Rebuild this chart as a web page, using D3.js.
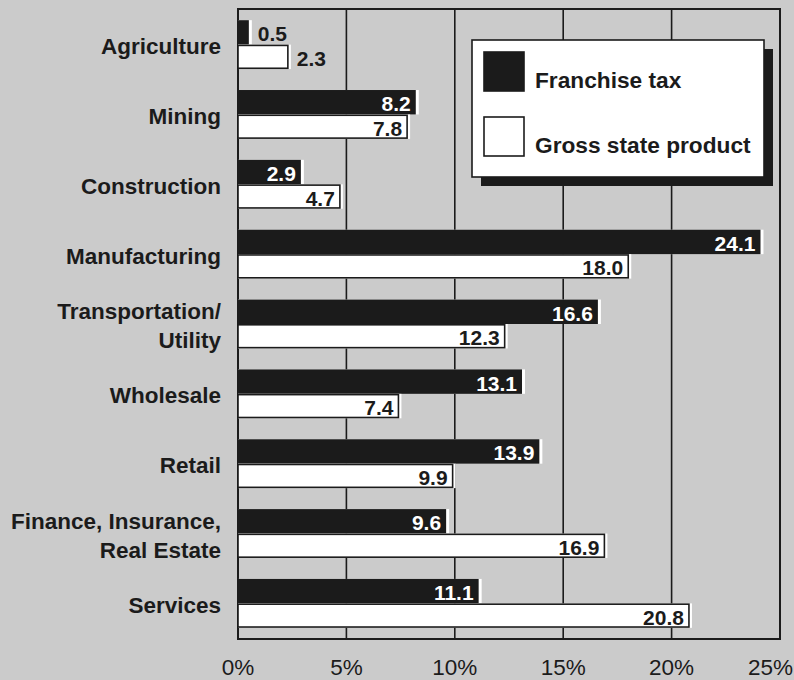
<!DOCTYPE html>
<html>
<head>
<meta charset="utf-8">
<script src="https://cdn.jsdelivr.net/npm/d3@7"></script>
<style>
  html, body { margin: 0; padding: 0; background: #cbcbcb; }
  svg { display: block; font-family: "Liberation Sans", Arial, Helvetica, sans-serif; }
</style>
</head>
<body>
<svg id="chart" width="794" height="680"></svg>
<script>
// sector shares, percent
var categories = ["Agriculture", "Mining", "Construction", "Manufacturing", "Transportation/\nUtility",
    "Wholesale", "Retail", "Finance, Insurance,\nReal Estate", "Services"];
var franchiseTax = [0.5, 8.2, 2.9, 24.1, 16.6, 13.1, 13.9, 9.6, 11.1];
var grossStateProduct = [2.3, 7.8, 4.7, 18.0, 12.3, 7.4, 9.9, 16.9, 20.8];
var seriesNames = ["Franchise tax", "Gross state product"];
var tickValues = [0, 5, 10, 15, 20, 25];

var ink = "#1b1b1b";
var svg = d3.select("#chart");

var plotLeft = 238, plotRight = 780, plotTop = 9, plotBottom = 639;

var x = d3.scaleLinear().domain([0, 25]).range([plotLeft, plotRight]);
var y = d3.scaleBand().domain(categories).range([plotTop, plotBottom]).paddingInner(0.3).paddingOuter(0.16);
var ySub = d3.scaleBand().domain(seriesNames).range([0, y.bandwidth()]);

// gridlines
svg.append("g").selectAll("line")
    .data(tickValues.slice(1, -1))
    .join("line")
    .attr("x1", d => x(d)).attr("x2", d => x(d))
    .attr("y1", plotTop).attr("y2", plotBottom)
    .attr("stroke", ink).attr("stroke-width", 1.6);

svg.append("rect")
    .attr("x", plotLeft).attr("y", plotTop)
    .attr("width", plotRight - plotLeft).attr("height", plotBottom - plotTop)
    .attr("fill", "none").attr("stroke", ink).attr("stroke-width", 2);

// bars
var rows = [];
categories.forEach(function (c, i) {
    rows.push({cat: c, series: seriesNames[0], value: franchiseTax[i]});
    rows.push({cat: c, series: seriesNames[1], value: grossStateProduct[i]});
});

var bars = svg.append("g").selectAll("g")
    .data(rows)
    .join("g")
    .attr("transform", d => "translate(0," + (y(d.cat) + ySub(d.series)) + ")");

// thin white halo on right side
bars.append("rect")
    .attr("x", x(0))
    .attr("y", 0)
    .attr("width", d => x(d.value) - x(0) + 3)
    .attr("height", ySub.bandwidth())
    .attr("fill", "#ffffff");

bars.append("rect")
    .attr("x", x(0))
    .attr("y", d => d.series === seriesNames[0] ? 0 : 0.8)
    .attr("width", d => x(d.value) - x(0))
    .attr("height", d => d.series === seriesNames[0] ? ySub.bandwidth() : ySub.bandwidth() - 1.6)
    .attr("fill", d => d.series === seriesNames[0] ? ink : "#ffffff")
    .attr("stroke", d => d.series === seriesNames[0] ? "none" : ink)
    .attr("stroke-width", 1.6);

function inside(d) { return (x(d.value) - x(0)) > 55; }

bars.append("text")
    .attr("x", d => inside(d) ? x(d.value) - 5 : x(d.value) + 9)
    .attr("y", ySub.bandwidth() / 2 + 1.5)
    .attr("dominant-baseline", "central")
    .attr("text-anchor", d => inside(d) ? "end" : "start")
    .attr("font-size", 21)
    .attr("font-weight", "bold")
    .attr("fill", d => inside(d) && d.series === seriesNames[0] ? "#ffffff" : ink)
    .text(d => d.value.toFixed(1));

// category labels
var labels = svg.append("g").selectAll("text")
    .data(categories)
    .join("text")
    .attr("text-anchor", "end")
    .attr("font-size", 22.5)
    .attr("font-weight", "bold")
    .attr("fill", ink);

labels.each(function (c) {
    var lines = c.split("\n");
    var cy = y(c) + y.bandwidth() / 2 + 2;
    var lh = 29;
    d3.select(this).selectAll("tspan")
        .data(lines)
        .join("tspan")
        .attr("x", 221)
        .attr("y", (d, i) => cy + (i - (lines.length - 1) / 2) * lh)
        .attr("dominant-baseline", "central")
        .text(d => d);
});

// x tick labels
svg.append("g").selectAll("text")
    .data(tickValues)
    .join("text")
    .attr("x", d => d === 25 ? 793 : x(d))
    .attr("y", 667)
    .attr("dominant-baseline", "central")
    .attr("text-anchor", d => d === 25 ? "end" : "middle")
    .attr("font-size", 22.5)
    .attr("fill", ink)
    .text(d => d + "%");

// legend
var legend = svg.append("g");
legend.append("rect")
    .attr("x", 481).attr("y", 49).attr("width", 292).attr("height", 137)
    .attr("fill", ink);
legend.append("rect")
    .attr("x", 472).attr("y", 40).attr("width", 292).attr("height", 137)
    .attr("fill", "#ffffff").attr("stroke", ink).attr("stroke-width", 1.6);

var items = legend.selectAll("g.item")
    .data(seriesNames)
    .join("g")
    .attr("class", "item")
    .attr("transform", (d, i) => "translate(484," + (52 + i * 65) + ")");

items.append("rect")
    .attr("x", 0).attr("y", 0).attr("width", 40).attr("height", 39)
    .attr("fill", (d, i) => i === 0 ? ink : "#ffffff")
    .attr("stroke", ink).attr("stroke-width", 1.6);

items.append("text")
    .attr("x", 51).attr("y", 28)
    .attr("dominant-baseline", "central")
    .attr("font-size", 22.7)
    .attr("font-weight", "bold")
    .attr("fill", ink)
    .text(d => d);
</script>
</body>
</html>
